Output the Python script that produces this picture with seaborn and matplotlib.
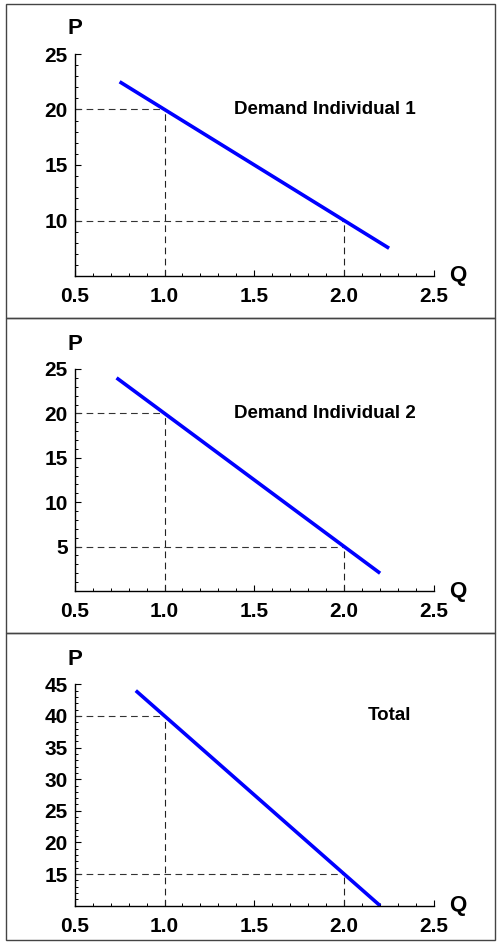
import matplotlib
matplotlib.use("Agg")
import matplotlib.pyplot as plt
import matplotlib.patches as mpatches
import seaborn as sns
from matplotlib.ticker import MultipleLocator

# --- Data ---
q_ind1 = [0.75, 1.0, 2.0, 2.25]
p_ind1 = [22.5, 20.0, 10.0, 7.5]
q_ind2 = [0.733, 1.0, 2.0, 2.2]
p_ind2 = [24.0, 20.0, 5.0, 2.0]
q_total = [0.84, 1.0, 2.0, 2.2]
p_total = [44.0, 40.0, 15.0, 10.0]

ref_q = [1.0, 2.0]
ref_p_ind1 = [20, 10]
ref_p_ind2 = [20, 5]
ref_p_total = [40, 15]

titles = ["Demand Individual 1", "Demand Individual 2", "Total"]
title_pos = [(1.89, 20), (1.89, 20), (2.25, 40)]
y_limits = [(5, 25), (0, 25), (10, 45)]
y_ticks = [[10, 15, 20, 25], [5, 10, 15, 20, 25], [15, 20, 25, 30, 35, 40, 45]]
x_ticks = [0.5, 1.0, 1.5, 2.0, 2.5]

# --- Style ---
sns.set_style("ticks")
plt.rcParams['font.family'] = ['Liberation Sans', 'DejaVu Sans']
plt.rcParams['font.weight'] = 'bold'
plt.rcParams['text.color'] = 'black'
plt.rcParams['xtick.color'] = 'black'
plt.rcParams['ytick.color'] = 'black'

W, H = 497, 944
fig = plt.figure(figsize=(W / 100, H / 100), dpi=100)

# panel frames (pixels from top)
frames = [(4, 318), (318, 633), (633, 940)]
for top, bot in frames:
    fig.patches.append(mpatches.Rectangle(
        (6 / W, 1 - bot / H), (495 - 6) / W, (bot - top) / H,
        transform=fig.transFigure, fill=False, edgecolor='#444444', lw=1.0))

# axes boxes: (top px, bottom px)
boxes = [(54, 276), (369, 591), (684.3, 905.7)]
series = [(q_ind1, p_ind1, ref_p_ind1), (q_ind2, p_ind2, ref_p_ind2),
          (q_total, p_total, ref_p_total)]

for i, ((top, bot), (q, p, rp)) in enumerate(zip(boxes, series)):
    ax = fig.add_axes([74.7 / W, 1 - bot / H, (434 - 74.7) / W, (bot - top) / H])
    ax.set_xlim(0.5, 2.5)
    ax.set_ylim(*y_limits[i])

    # dashed reference lines
    for rq, rpv in zip(ref_q, rp):
        ax.plot([0.5, rq], [rpv, rpv], color='#333333', lw=0.8, dashes=(6, 4))
        ax.plot([rq, rq], [y_limits[i][0], rpv], color='#222222', lw=0.8, dashes=(6, 4))

    sns.lineplot(x=q, y=p, ax=ax, color='#0000ff', lw=2.6, solid_capstyle='butt')

    ax.text(*title_pos[i], titles[i], ha='center', va='center',
            fontsize=13.5, fontweight='bold', color='black')

    sns.despine(ax=ax)
    for s in ['left', 'bottom']:
        ax.spines[s].set_linewidth(1.0)
        ax.spines[s].set_color('black')
    ax.set_xticks(x_ticks)
    ax.set_xticklabels([f"{v:.1f}" for v in x_ticks])
    ax.set_yticks(y_ticks[i])
    ax.xaxis.set_minor_locator(MultipleLocator(0.1))
    ax.yaxis.set_minor_locator(MultipleLocator(1))
    ax.tick_params(which='major', direction='in', length=4, width=0.8,
                   labelsize=15, color='black', labelcolor='black')
    ax.tick_params(which='minor', direction='in', length=2.2, width=0.7, color='black')
    ax.tick_params(axis='x', which='major', pad=8)
    ax.tick_params(axis='y', which='major', pad=5)
    for lab in ax.get_xticklabels() + ax.get_yticklabels():
        lab.set_fontweight('bold')
    ax.set_xlabel('')
    ax.set_ylabel('')

    ax.annotate('P', xy=(0, 1), xycoords='axes fraction', xytext=(0, 18),
                textcoords='offset points', ha='center', va='center',
                fontsize=16, fontweight='bold', color='black')
    ax.annotate('Q', xy=(1, 0), xycoords='axes fraction', xytext=(17, 0),
                textcoords='offset points', ha='center', va='center',
                fontsize=16, fontweight='bold', color='black')

fig.savefig('out.png', dpi=100)
